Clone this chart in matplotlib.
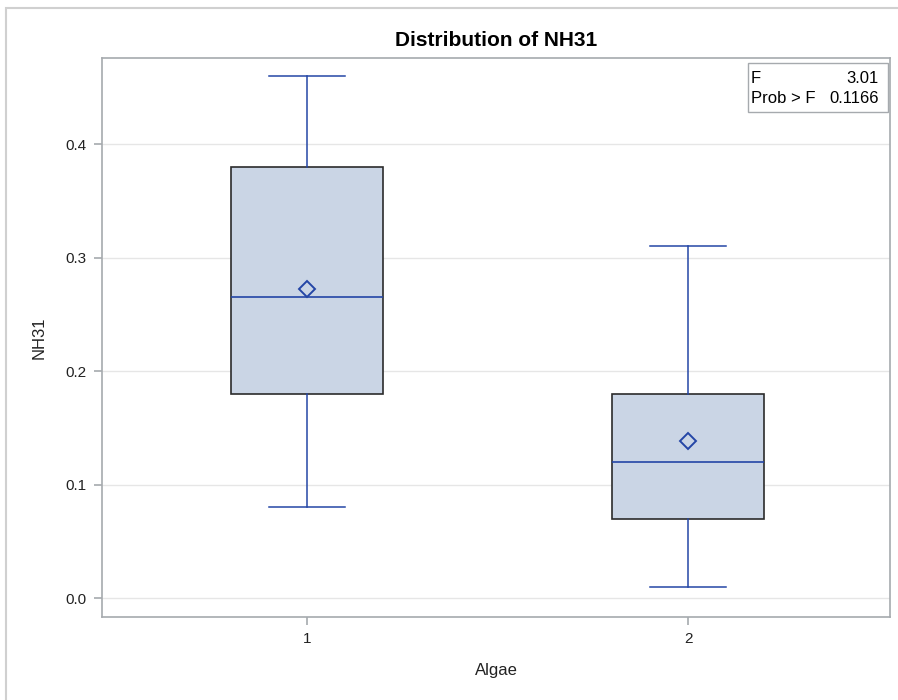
import matplotlib
matplotlib.use("Agg")
import matplotlib.pyplot as plt
from matplotlib.patches import Rectangle

plt.rcParams['font.family'] = ['Liberation Sans', 'DejaVu Sans']

# data
groups = ["1", "2"]
whislo = [0.08, 0.01]
q1 = [0.18, 0.07]
med = [0.265, 0.12]
means = [0.272, 0.138]
q3 = [0.38, 0.18]
whishi = [0.46, 0.31]
f_value = "3.01"
p_value = "0.1166"

blue = '#2446A6'
fig = plt.figure(figsize=(8.98, 7), dpi=100)
ax = fig.add_axes([0.1136, 0.1186, 0.8775, 0.7985])

stats = []
for i in range(len(groups)):
    stats.append({'label': groups[i], 'whislo': whislo[i], 'q1': q1[i], 'med': med[i],
                  'mean': means[i], 'q3': q3[i], 'whishi': whishi[i], 'fliers': []})

ax.bxp(stats, positions=[1, 2], widths=0.40, showmeans=True, patch_artist=True,
       boxprops=dict(facecolor='#CAD5E5', edgecolor='#2b2b2b', linewidth=1.2),
       medianprops=dict(color=blue, linewidth=1.2),
       whiskerprops=dict(color=blue, linewidth=1.1),
       capprops=dict(color=blue, linewidth=1.1),
       capwidths=0.20,
       meanprops=dict(marker='D', markerfacecolor='none', markeredgecolor=blue,
                      markersize=8, markeredgewidth=1.4))

ax.set_xlim(0.462, 2.53)
ax.set_ylim(-0.0167, 0.4758)
ax.set_yticks([0.0, 0.1, 0.2, 0.3, 0.4])
ax.set_yticklabels(['0.0', '0.1', '0.2', '0.3', '0.4'])
ax.set_xticks([1, 2])
ax.set_xticklabels(groups)
ax.yaxis.grid(True, color='#E6E6E6', linewidth=1)
ax.set_axisbelow(True)
for s in ax.spines.values():
    s.set_color('#A6AAAE')
    s.set_linewidth(1.2)
ax.tick_params(colors='#A6AAAE', labelcolor='#222222', labelsize=11, length=6, width=1.2, pad=5)

ax.set_title('Distribution of NH31', fontsize=15, fontweight='bold', pad=9)
ax.set_ylabel('NH31', fontsize=12, color='#222222', labelpad=14)
ax.set_xlabel('Algae', fontsize=12, color='#222222', labelpad=12)

# inset stats table
ax.add_patch(Rectangle((0.820, 0.903), 0.177, 0.088, transform=ax.transAxes,
                       facecolor='white', edgecolor='#A6AAAE', linewidth=1, zorder=5))
ax.text(0.8236, 0.964, 'F', transform=ax.transAxes, fontsize=12, va='center', zorder=6)
ax.text(0.986, 0.964, f_value, transform=ax.transAxes, fontsize=12, va='center', ha='right', zorder=6)
ax.text(0.8236, 0.928, 'Prob > F', transform=ax.transAxes, fontsize=12, va='center', zorder=6)
ax.text(0.986, 0.928, p_value, transform=ax.transAxes, fontsize=12, va='center', ha='right', zorder=6)

# outer frame
fig.patches.append(Rectangle((6 / 898, -0.01), 1.0, 1 - 8 / 700 + 0.01, transform=fig.transFigure,
                             fill=False, edgecolor='#D0D0D0', linewidth=1.5))

fig.savefig('out.png', dpi=100)
